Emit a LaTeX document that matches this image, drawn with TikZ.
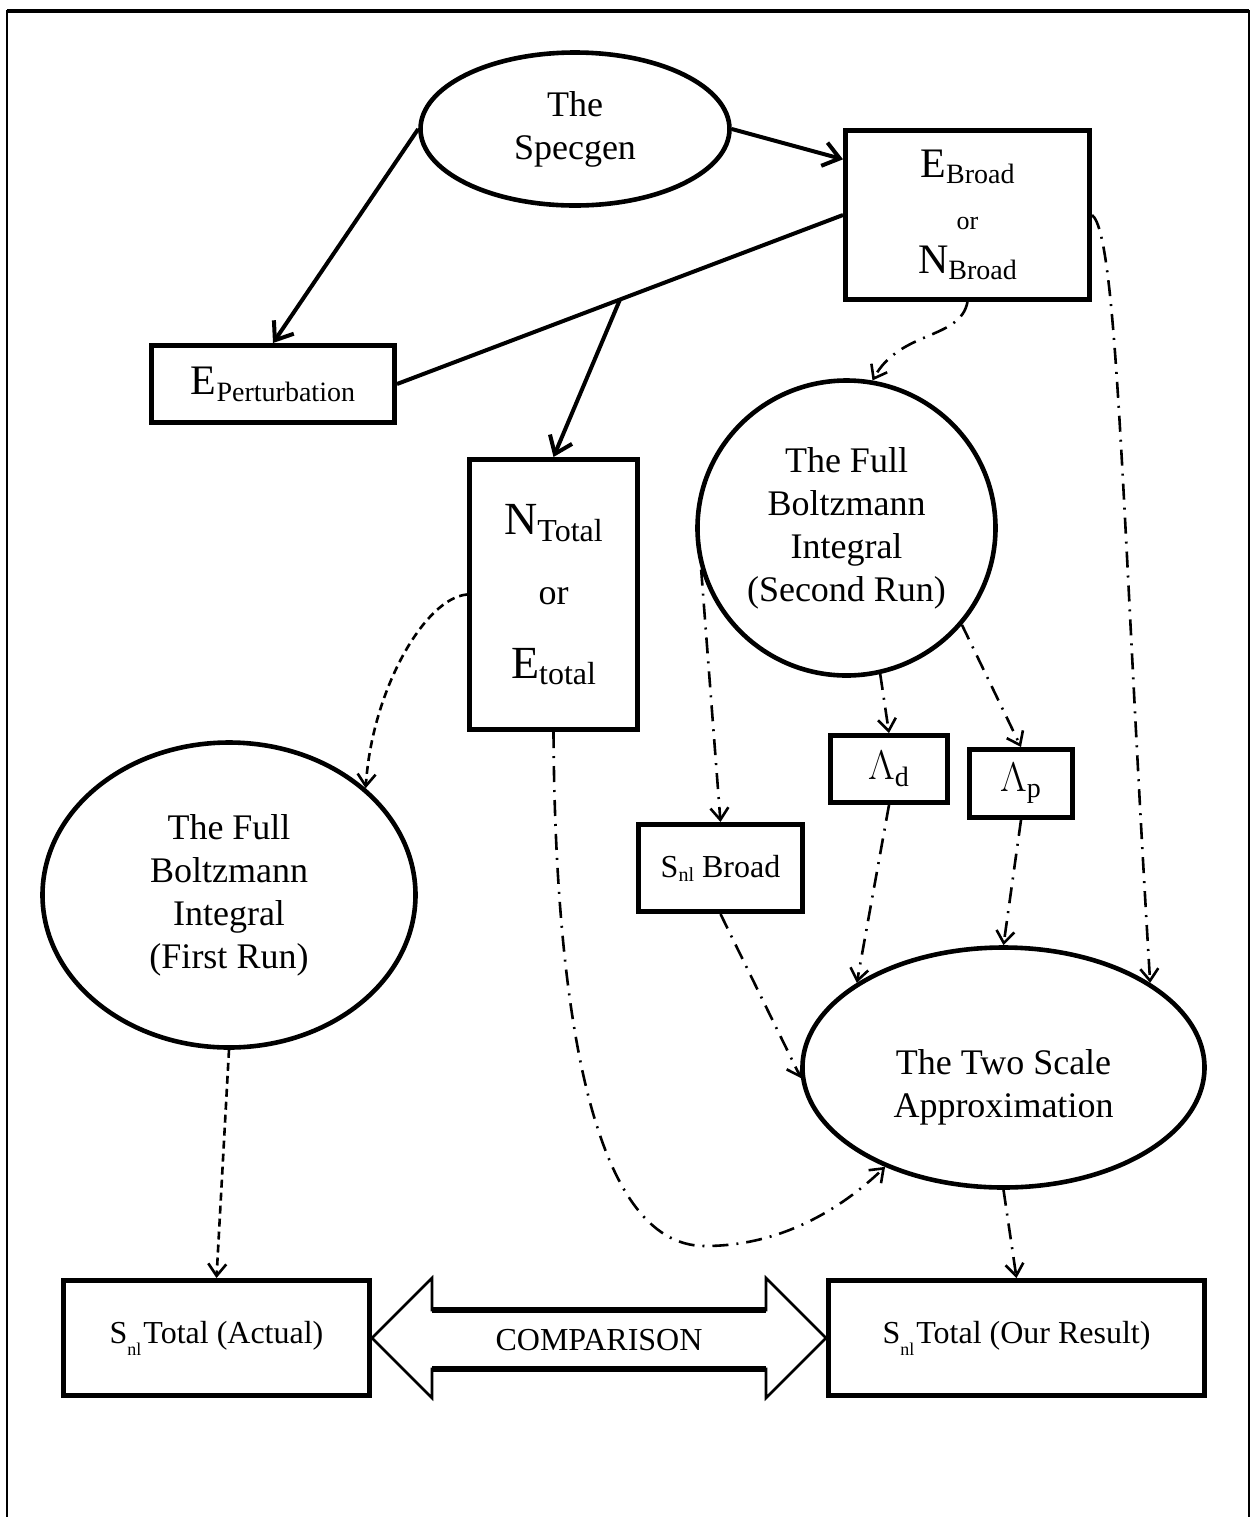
\documentclass[tikz,border=0pt]{standalone}
\usepackage{fontspec}
\setmainfont{Liberation Serif}
\usetikzlibrary{arrows.meta,shapes.geometric,calc}
\newcommand{\lowsub}[3]{\raisebox{-#3}{\fontsize{#2}{#2}\selectfont #1}}
\begin{document}
\begin{tikzpicture}[x=0.5pt,y=-0.5pt,
  boxnode/.style={draw, line width=2.5pt, rectangle, inner sep=0pt, align=center},
  ellnode/.style={draw, line width=2.3pt, ellipse, inner sep=0pt, align=center, font=\fontsize{18}{21.5}\selectfont},
  solidcon/.style={line width=2pt, -{Straight Barb[length=8pt,width=12pt]}},
  ddcon/.style={line width=1.3pt, dash pattern=on 8pt off 4pt on 1pt off 4pt, -{Straight Barb[length=6pt,width=9pt]}},
  dshcon/.style={line width=1.3pt, dash pattern=on 4pt off 2.5pt, -{Straight Barb[length=6pt,width=9pt]}},
  plaincon/.style={line width=2pt}
]
\useasboundingbox (0,0) rectangle (1252,1517);
% frame
\draw[line width=1pt] (7,1517) -- (7,11) -- (1249,11) -- (1249,1517);
\draw[line width=2pt] (7,11) -- (1249,11);

% nodes
\node[ellnode, minimum width=154.5pt, minimum height=76.5pt] (spec) at (575,129) {The\\Specgen};
\node[boxnode, minimum width=122pt, minimum height=84.5pt, font=\fontsize{21}{24}\selectfont] (broad) at (967.5,215)
  {E\lowsub{Broad}{14pt}{3pt}\\[2pt]{\fontsize{13}{15}\selectfont or}\\[-2pt]N\lowsub{Broad}{14pt}{3pt}};
\node[boxnode, minimum width=121.5pt, minimum height=38.5pt, font=\fontsize{21}{24}\selectfont] (pert) at (273,384)
  {E\lowsub{Perturbation}{14pt}{3.5pt}};
\node[boxnode, minimum width=84pt, minimum height=135pt, font=\fontsize{23}{28}\selectfont] (ntot) at (553.5,594.5)
  {N\lowsub{Total}{16pt}{3.5pt}\\[7pt]{\fontsize{18}{20}\selectfont or}\\[9pt]E\lowsub{total}{16pt}{3pt}};
\node[ellnode, minimum width=149pt, minimum height=147.5pt] (fb2) at (846.5,528)
  {The Full\\Boltzmann\\Integral\\(Second Run)};
\node[ellnode, minimum width=186.5pt, minimum height=152.5pt] (fb1) at (229,895)
  {The Full\\Boltzmann\\Integral\\(First Run)};
\node[boxnode, minimum width=58.5pt, minimum height=33.5pt, font=\fontsize{20}{22}\selectfont] (ld) at (889,769) {$\Lambda_{\mathrm{d}}$};
\node[boxnode, minimum width=51.5pt, minimum height=34pt, font=\fontsize{20}{22}\selectfont] (lp) at (1021,783.5) {$\Lambda_{\mathrm{p}}$};
\node[boxnode, minimum width=82pt, minimum height=43.5pt, font=\fontsize{16}{19}\selectfont] (snb) at (720.5,868)
  {S\lowsub{nl}{10pt}{2pt} Broad};
\node[ellnode, minimum width=201pt, minimum height=120pt] (two) at (1003.5,1067.5) {};
\node[align=center, font=\fontsize{18}{21.5}\selectfont] (twotext) at ([yshift=-10pt]two.center) {The Two Scale\\Approximation};
\node[boxnode, minimum width=153pt, minimum height=57.5pt, font=\fontsize{16}{19}\selectfont] (act) at (216.5,1338)
  {S\lowsub{nl}{9pt}{6pt}\kern1pt Total (Actual)};
\node[boxnode, minimum width=188pt, minimum height=57.5pt, font=\fontsize{16}{19}\selectfont] (our) at (1016.5,1338)
  {S\lowsub{nl}{9pt}{6pt}\kern1pt Total (Our Result)};

% comparison double arrow
\draw[line width=1.3pt, line join=miter] (act.east) -- ++(60,-60) -- ++(0,32) -- ($(our.west)+(-60,-28)$) -- ++(0,-32)
  -- (our.west) -- ++(-60,60) -- ++(0,-29) -- ($(act.east)+(60,31)$) -- ++(0,29) -- cycle;
\draw[line width=2.6pt] ($(act.east)+(60,-28)$) -- ($(our.west)+(-60,-28)$);
\draw[line width=2.6pt] ($(act.east)+(60,31)$) -- ($(our.west)+(-60,31)$);
\node[font=\fontsize{16}{19}\selectfont] (cmp) at ($(act.east)!0.5!(our.west)+(0,2)$) {COMPARISON};

% connectors
\coordinate (bwtop) at ($(broad.north west)!0.18!(broad.south west)$);
\draw[solidcon] (spec.west) -- (pert.north);
\draw[solidcon] (spec.east) -- (bwtop);
\draw[plaincon] (broad.west) -- (pert.east);
\coordinate (ebmid) at ($(broad.west)!0.5!(pert.east)$);
\draw[solidcon] (ebmid) -- (ntot.north);

\draw[ddcon] (broad.south) .. controls (960,340) and (900,330) .. (fb2.80);
\draw[ddcon] (broad.east) .. controls (1118,235) and (1122,520) .. (two.30);
\draw[dshcon] (ntot.west) .. controls (425,598) and (372,690) .. (fb1.38);
\coordinate (lowpt) at (705,1246);
\draw[ddcon] (ntot.south) .. controls (555,1000) and (590,1246) .. (lowpt) .. controls (780,1246) and (840,1210) .. (two.220);
\draw[ddcon] (fb2.196) -- (snb.north);
\draw[ddcon] (fb2.-77) -- (ld.north);
\draw[ddcon] (fb2.-40) -- (lp.north);
\draw[ddcon] (ld.south) -- (two.150);
\draw[ddcon] (lp.south) -- (two.north);
\draw[ddcon] (snb.south) -- (two.183);
\draw[ddcon] (two.south) -- (our.north);
\draw[dshcon] (fb1.south) -- (act.north);
\end{tikzpicture}
\end{document}
